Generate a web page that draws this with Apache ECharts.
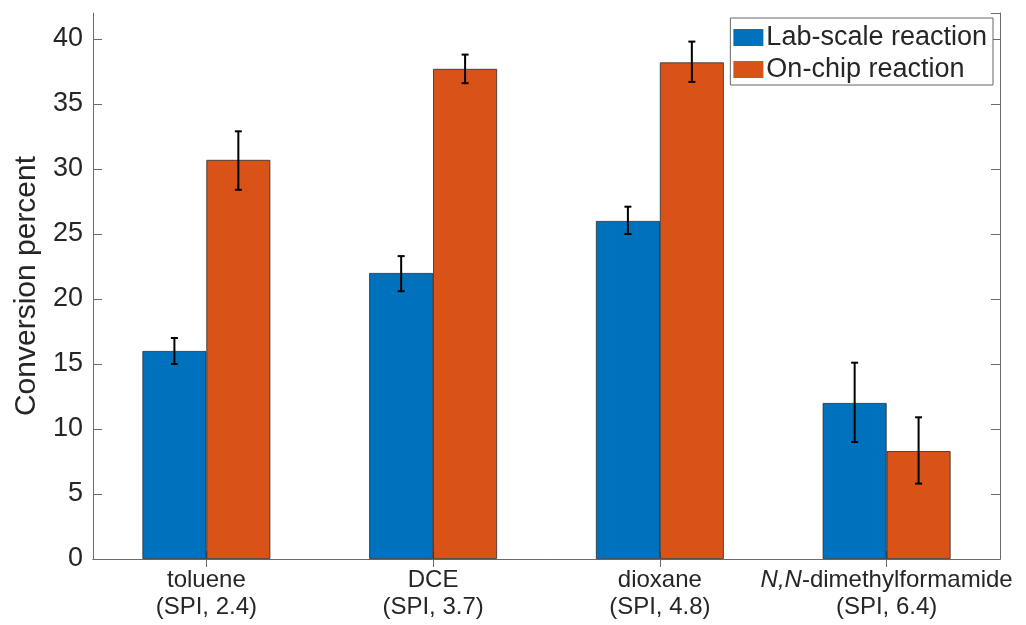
<!DOCTYPE html>
<html>
<head>
<meta charset="utf-8">
<script src="https://cdn.jsdelivr.net/npm/echarts@6/dist/echarts.min.js"></script>
<style>html,body{margin:0;padding:0;background:#fff;}#c{width:1026px;height:625px;}</style>
</head>
<body>
<div id="c"></div>
<script>
const categories = ['toluene\n(SPI, 2.4)', 'DCE\n(SPI, 3.7)', 'dioxane\n(SPI, 4.8)', 'N,N-dimethylformamide\n(SPI, 6.4)'];
const seriesNames = ['Lab-scale reaction', 'On-chip reaction'];
const labScale = [16.0, 22.0, 26.0, 12.0];
const labLow = [15.0, 20.6, 25.0, 9.0];
const labHigh = [17.0, 23.3, 27.1, 15.1];
const onChip = [30.7, 37.7, 38.2, 8.3];
const onChipLow = [28.4, 36.6, 36.7, 5.8];
const onChipHigh = [32.9, 38.8, 39.8, 10.9];
const yTicks = [0, 5, 10, 15, 20, 25, 30, 35, 40];

const FONT = '"Liberation Sans", Arial, Helvetica, sans-serif';
const TXT = '#262626';
const AX = '#6b6b6b';
const BAR_FRAC = 0.282;

function errRender(sign) {
  return function (params, api) {
    const i = api.value(0);
    const lo = api.coord([i, api.value(1)]);
    const hi = api.coord([i, api.value(2)]);
    const band = api.size([1, 0])[0];
    const cx = lo[0] + sign * band * BAR_FRAC / 2;
    const cap = 3.5;
    const st = { stroke: '#000', lineWidth: 2 };
    return {
      type: 'group',
      children: [
        { type: 'line', shape: { x1: cx, y1: lo[1], x2: cx, y2: hi[1] }, style: st },
        { type: 'line', shape: { x1: cx - cap, y1: lo[1], x2: cx + cap, y2: lo[1] }, style: st },
        { type: 'line', shape: { x1: cx - cap, y1: hi[1], x2: cx + cap, y2: hi[1] }, style: st }
      ]
    };
  };
}

const chart = echarts.init(document.getElementById('c'), null, { renderer: 'canvas' });
chart.setOption({
  animation: false,
  backgroundColor: '#fff',
  textStyle: { fontFamily: FONT },
  grid: { left: 93, right: 26, top: 13, bottom: 66, containLabel: false, outerBoundsMode: 'none' },
  legend: {
    data: seriesNames,
    orient: 'vertical',
    right: 33,
    top: 18,
    icon: 'rect',
    itemWidth: 30,
    itemHeight: 17,
    itemGap: 5,
    padding: [6, 6, 2, 3],
    borderColor: '#666',
    borderWidth: 1,
    backgroundColor: '#fff',
    textStyle: { fontSize: 27, color: TXT, fontFamily: FONT, padding: [0, 0, 0, -2] },
    itemStyle: { borderWidth: 0 }
  },
  xAxis: [
    {
      type: 'category',
      data: categories,
      position: 'bottom',
      axisLine: { show: true, lineStyle: { color: AX, width: 1 } },
      axisTick: { show: true, inside: true, alignWithLabel: true, length: 8, lineStyle: { color: AX } },
      axisLabel: {
        color: TXT, fontSize: 24, fontFamily: FONT, margin: 8, lineHeight: 27, interval: 0,
        formatter: function (v) {
          if (v.indexOf('N,N') === 0) return '{it|N,N}' + v.slice(3);
          return v;
        },
        rich: { it: { fontStyle: 'italic', fontSize: 24, color: TXT, fontFamily: FONT, lineHeight: 27 } }
      },
      splitLine: { show: false }
    },
    {
      type: 'category',
      data: categories,
      position: 'top',
      axisLine: { show: true, lineStyle: { color: AX, width: 1 } },
      axisTick: { show: true, inside: true, alignWithLabel: true, length: 8, lineStyle: { color: AX } },
      axisLabel: { show: false },
      splitLine: { show: false }
    }
  ],
  yAxis: [
    {
      type: 'value', min: 0, max: 42, interval: 5, position: 'left',
      name: 'Conversion percent', nameLocation: 'middle', nameGap: 49, nameRotate: 90,
      nameTextStyle: { fontSize: 30, color: TXT, fontFamily: FONT },
      axisLine: { show: true, lineStyle: { color: AX, width: 1 } },
      axisTick: { show: true, inside: true, length: 9, lineStyle: { color: AX } },
      axisLabel: {
        color: TXT, fontSize: 27, fontFamily: FONT, margin: 10, showMaxLabel: false,
        formatter: function (v) { return yTicks.indexOf(v) >= 0 ? String(v) : ''; }
      },
      splitLine: { show: false }
    },
    {
      type: 'value', min: 0, max: 42, interval: 5, position: 'right',
      axisLine: { show: true, lineStyle: { color: AX, width: 1 } },
      axisTick: { show: true, inside: true, length: 9, lineStyle: { color: AX } },
      axisLabel: { show: false },
      splitLine: { show: false }
    }
  ],
  series: [
    {
      name: seriesNames[0], type: 'bar', data: labScale,
      barWidth: (BAR_FRAC * 100) + '%', barGap: '0%',
      itemStyle: { color: '#0072BD', borderColor: '#2b2b2b', borderWidth: 0.8 }
    },
    {
      name: seriesNames[1], type: 'bar', data: onChip,
      barWidth: (BAR_FRAC * 100) + '%', barGap: '0%',
      itemStyle: { color: '#D95319', borderColor: '#2b2b2b', borderWidth: 0.8 }
    },
    {
      name: 'errLab', type: 'custom', renderItem: errRender(-1), z: 5,
      encode: { x: 0, y: [1, 2] },
      data: labScale.map((v, i) => [i, labLow[i], labHigh[i]])
    },
    {
      name: 'errChip', type: 'custom', renderItem: errRender(1), z: 5,
      encode: { x: 0, y: [1, 2] },
      data: onChip.map((v, i) => [i, onChipLow[i], onChipHigh[i]])
    }
  ]
});
</script>
</body>
</html>
